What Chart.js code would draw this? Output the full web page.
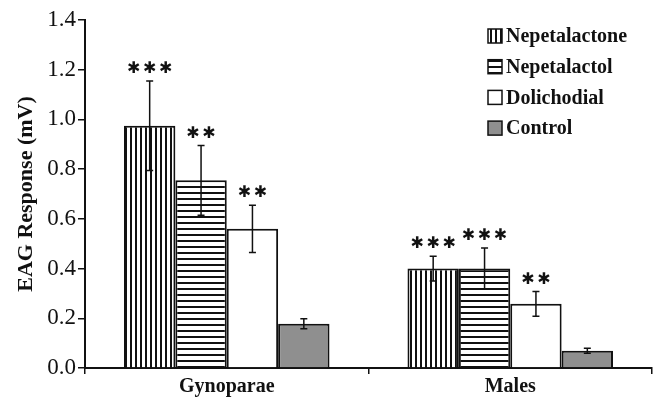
<!DOCTYPE html>
<html>
<head>
<meta charset="utf-8">
<script src="https://cdn.jsdelivr.net/npm/chart.js@4"></script>
<style>
  html, body { margin: 0; padding: 0; background: #fff; }
</style>
</head>
<body>
<canvas id="chart" width="656" height="400"></canvas>
<script>
// data
const categories = ['Gynoparae', 'Males'];
const seriesNames = ['Nepetalactone', 'Nepetalactol', 'Dolichodial', 'Control'];
const nepetalactone = [0.975, 0.40];
const nepetalactol = [0.755, 0.40];
const dolichodial = [0.56, 0.258];
const control = [0.178, 0.069];
const errNepetalactone = [0.18, 0.05];
const errNepetalactol = [0.14, 0.083];
const errDolichodial = [0.095, 0.05];
const errControl = [0.02, 0.01];
const stars = [['***', '***'], ['**', '***'], ['**', '**'], ['', '']];
const yMin = 0, yMax = 1.4, yStep = 0.2;

// stripe fills
function stripes(vertical, step, lw) {
  const c = document.createElement('canvas');
  c.width = step; c.height = step;
  const g = c.getContext('2d');
  g.fillStyle = '#fff';
  g.fillRect(0, 0, step, step);
  g.fillStyle = '#111';
  if (vertical) g.fillRect(0, 0, lw, step);
  else g.fillRect(0, 0, step, lw);
  return g.createPattern(c, 'repeat');
}

const fills = [stripes(true, 5, 2), stripes(false, 6, 2), '#ffffff', '#8f8f8f'];
const values = [nepetalactone, nepetalactol, dolichodial, control];
const errors = [errNepetalactone, errNepetalactol, errDolichodial, errControl];

const errorBars = {
  id: 'errorBars',
  afterDatasetsDraw(chart) {
    const ctx = chart.ctx;
    const y = chart.scales.y;
    ctx.save();
    chart.data.datasets.forEach((ds, i) => {
      chart.getDatasetMeta(i).data.forEach((bar, j) => {
        const v = ds.data[j], e = errors[i][j];
        const top = y.getPixelForValue(v + e);
        const bot = y.getPixelForValue(v - e);
        const x = bar.x;
        ctx.strokeStyle = '#111';
        ctx.lineWidth = 1.5;
        ctx.beginPath();
        ctx.moveTo(x, top); ctx.lineTo(x, bot);
        ctx.moveTo(x - 3.5, top); ctx.lineTo(x + 3.5, top);
        ctx.moveTo(x - 3.5, bot); ctx.lineTo(x + 3.5, bot);
        ctx.stroke();
        // significance stars
        const s = stars[i][j];
        ctx.fillStyle = '#111';
        ctx.font = 'bold 16px "DejaVu Sans"';
        ctx.textAlign = 'center';
        ctx.textBaseline = 'middle';
        for (let k = 0; k < s.length; k++) {
          ctx.fillText('\u2731', x + (k - (s.length - 1) / 2) * 16, top - 12);
        }
      });
    });
    ctx.restore();
  }
};

const boxLegend = {
  id: 'boxLegend',
  afterDraw(chart) {
    const ctx = chart.ctx;
    ctx.save();
    chart.data.datasets.forEach((ds, i) => {
      const yc = 36 + i * 30.7;
      ctx.fillStyle = ds.backgroundColor;
      ctx.fillRect(488, yc - 7, 14, 14);
      ctx.strokeStyle = '#111';
      ctx.lineWidth = 1.5;
      ctx.strokeRect(488, yc - 7, 14, 14);
      ctx.fillStyle = '#111';
      ctx.font = 'bold 20px "Liberation Serif"';
      ctx.textAlign = 'left';
      ctx.textBaseline = 'middle';
      ctx.fillText(ds.label, 506, yc + 1);
    });
    ctx.restore();
  }
};

new Chart(document.getElementById('chart'), {
  type: 'bar',
  data: {
    labels: categories,
    datasets: seriesNames.map((name, i) => ({
      label: name,
      data: values[i],
      backgroundColor: fills[i],
      borderColor: '#111',
      borderWidth: 2,
      categoryPercentage: 0.725,
      barPercentage: 1.0
    }))
  },
  options: {
    responsive: false,
    animation: false,
    devicePixelRatio: 1,
    layout: { padding: { left: 13, right: 4, top: 20, bottom: 0 } },
    plugins: {
      legend: { display: false },
      tooltip: { enabled: false }
    },
    scales: {
      x: {
        grid: { drawOnChartArea: false, drawTicks: true, tickLength: 6, color: '#111', lineWidth: 1.5 },
        border: { display: true, color: '#111', width: 2 },
        ticks: { color: '#111', padding: 1, font: { family: 'Liberation Serif', size: 20, weight: 'bold' } }
      },
      y: {
        min: yMin,
        max: yMax,
        afterFit(scale) { scale.width = 72; },
        grid: { drawOnChartArea: false, drawTicks: true, tickLength: 7, color: '#111', lineWidth: 1.5 },
        border: { display: true, color: '#111', width: 2 },
        ticks: {
          stepSize: yStep,
          color: '#111',
          padding: 2,
          font: { family: 'Liberation Serif', size: 23 },
          callback: v => v.toFixed(1)
        },
        title: {
          display: true,
          text: 'EAG Response (mV)',
          color: '#111',
          padding: { top: 0, bottom: 0 },
          font: { family: 'Liberation Serif', size: 22, weight: 'bold' }
        }
      }
    }
  },
  plugins: [errorBars, boxLegend]
});
</script>
</body>
</html>
